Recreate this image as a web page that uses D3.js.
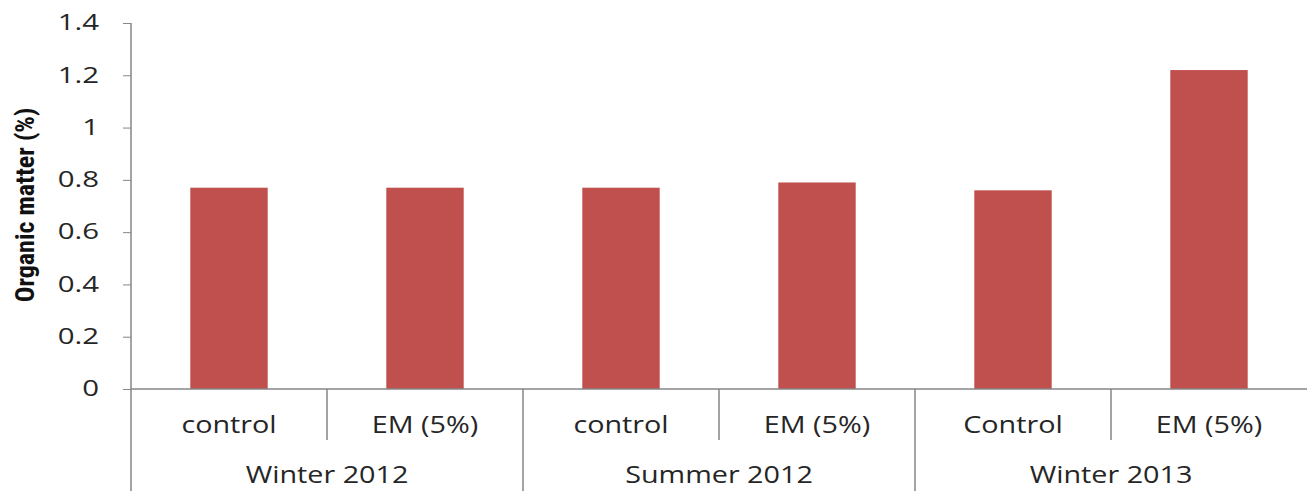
<!DOCTYPE html>
<html><head><meta charset="utf-8">
<script src="https://cdn.jsdelivr.net/npm/d3@7"></script>
<style>body{margin:0;background:#fff}svg{display:block}</style>
</head><body>
<svg id="c" width="1307" height="491"></svg>
<script>
const groups = ["Winter 2012","Summer 2012","Winter 2013"];
const treatments = [["control","EM (5%)"],["control","EM (5%)"],["Control","EM (5%)"]];
const values = [0.77,0.77,0.77,0.79,0.76,1.22];
const yTicks = [0,0.2,0.4,0.6,0.8,1,1.2,1.4];
const yLabel = "Organic matter (%)";

(function(){
const svg = d3.select("#c");
const mLeft = 131, mRight = 1307, mTop = 23, mBottom = 389;
const cats = d3.range(values.length);
const x = d3.scaleBand().domain(cats).range([mLeft, mRight]).paddingInner(0).paddingOuter(0);
const y = d3.scaleLinear().domain([0,1.4]).range([mBottom, mTop]);
const axisCol = "#868686";
const font = "'Open Sans', sans-serif";
const txtCol = "#262626";
const sxT = 1.4, sxL = 1.25;

const bw = x.bandwidth()*0.395;
svg.selectAll("rect.bar").data(values).join("rect")
  .attr("x",(d,i)=>x(i)+x.bandwidth()/2-bw/2)
  .attr("width",bw)
  .attr("y",d=>y(d))
  .attr("height",d=>mBottom-y(d))
  .attr("fill","#C0504D");

const ya = svg.append("g").attr("transform",`translate(${mLeft},0)`)
  .call(d3.axisLeft(y).tickValues(yTicks).tickFormat(d=>String(d)).tickSize(8).tickPadding(24).tickSizeOuter(0));
ya.select(".domain").remove();
ya.selectAll(".tick line").attr("stroke",axisCol);
ya.selectAll(".tick text").attr("font-family",font).attr("font-size",21).attr("fill",txtCol)
  .attr("x",-32/sxT).attr("transform",`scale(${sxT},1)`);
svg.append("line").attr("x1",mLeft).attr("x2",mLeft).attr("y1",mTop).attr("y2",491).attr("stroke",axisCol).attr("stroke-width",1.5);

svg.append("line").attr("x1",mLeft).attr("x2",mRight).attr("y1",mBottom).attr("y2",mBottom).attr("stroke",axisCol).attr("stroke-width",1.5);

cats.slice(1).forEach(i=>{
  const isGroup = i%2===0;
  svg.append("line").attr("x1",x(i)).attr("x2",x(i)).attr("y1",mBottom).attr("y2",isGroup?491:440)
    .attr("stroke",axisCol).attr("stroke-width",1.5);
});

const flat = treatments.flat();
svg.selectAll("text.tr").data(flat).join("text")
  .attr("transform",(d,i)=>`translate(${x(i)+x.bandwidth()/2},433) scale(${sxL},1)`)
  .attr("text-anchor","middle").attr("font-family",font).attr("font-size",23).attr("fill",txtCol)
  .text(d=>d);

svg.selectAll("text.gr").data(groups).join("text")
  .attr("transform",(d,i)=>`translate(${x(i*2+1)},483) scale(${sxL},1)`)
  .attr("text-anchor","middle").attr("font-family",font).attr("font-size",23).attr("fill",txtCol)
  .text(d=>d);

svg.append("text").attr("transform","translate(34,205) rotate(-90)")
  .attr("text-anchor","middle").attr("font-family","'Liberation Sans Narrow','Roboto Condensed',sans-serif")
  .attr("font-weight","bold").attr("font-size",26).attr("fill","#111").text(yLabel);
})();
</script>
</body></html>
